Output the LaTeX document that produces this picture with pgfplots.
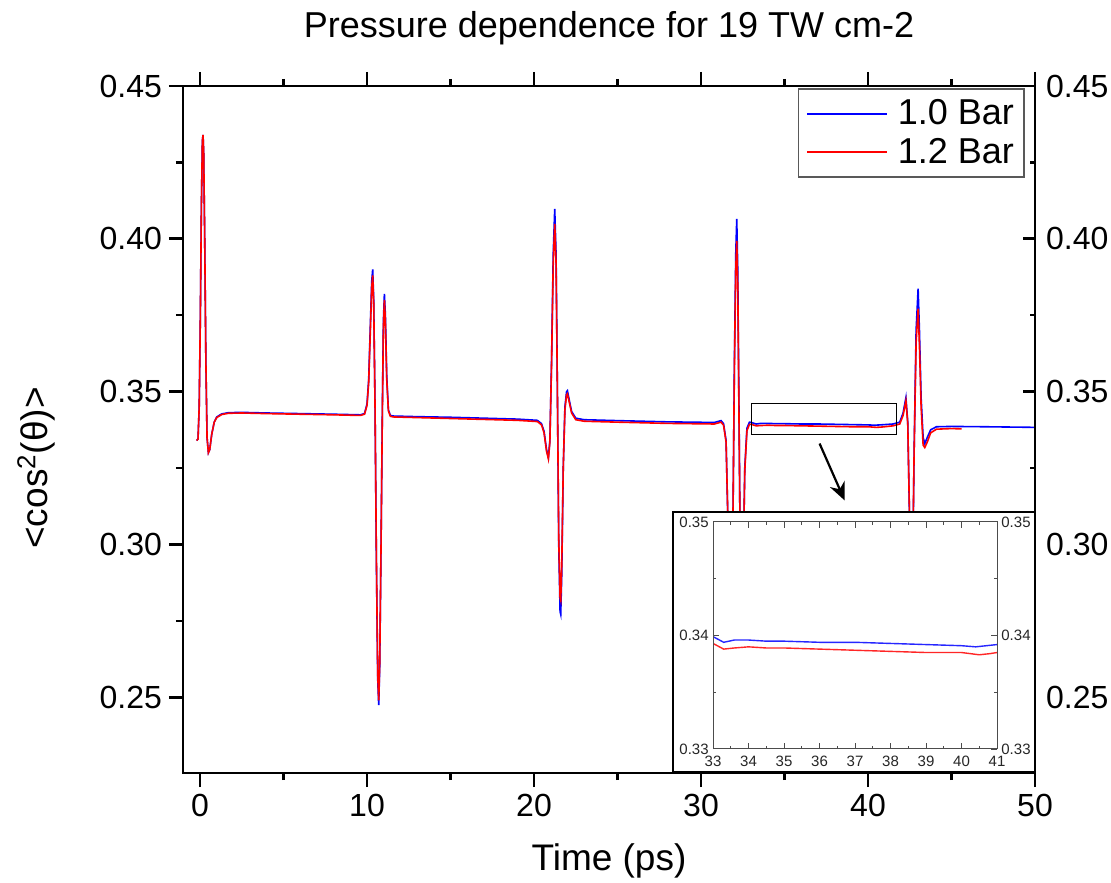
\documentclass[border=0pt]{standalone}
\usepackage{fontspec}
\setmainfont{Liberation Sans}
\usepackage{pgfplots}
\usepackage{pgfplotstable}
\pgfplotsset{compat=1.18}
\usetikzlibrary{arrows.meta}
\pgfplotsset{/pgf/number format/assume math mode=true}

\pgfplotstableread{
t v
-0.20 0.3340
-0.12 0.3345
-0.05 0.3450
0.02 0.3750
0.08 0.4100
0.14 0.4320
0.18 0.4340
0.22 0.4280
0.28 0.4000
0.35 0.3600
0.42 0.3350
0.50 0.3300
0.58 0.3310
0.70 0.3360
0.85 0.3400
1.00 0.3417
1.30 0.3427
1.70 0.3431
2.50 0.3432
4.00 0.3430
6.00 0.3428
8.00 0.3426
9.60 0.3424
9.85 0.3428
10.00 0.3460
10.10 0.3540
10.20 0.3720
10.28 0.3860
10.34 0.3900
10.40 0.3800
10.48 0.3450
10.56 0.2950
10.64 0.2560
10.70 0.2474
10.76 0.2600
10.84 0.3000
10.92 0.3450
10.98 0.3730
11.04 0.3820
11.10 0.3750
11.18 0.3550
11.28 0.3440
11.40 0.3422
11.60 0.3420
13.00 0.3418
15.00 0.3416
17.00 0.3413
19.00 0.3410
20.20 0.3406
20.45 0.3395
20.60 0.3370
20.75 0.3310
20.86 0.3284
20.95 0.3340
21.05 0.3600
21.15 0.3950
21.24 0.4098
21.32 0.3950
21.40 0.3500
21.48 0.3000
21.56 0.2780
21.60 0.2771
21.66 0.2900
21.75 0.3250
21.85 0.3450
21.95 0.3500
22.00 0.3503
22.10 0.3475
22.25 0.3435
22.50 0.3413
23.00 0.3408
25.00 0.3405
28.00 0.3401
30.80 0.3399
31.20 0.3405
31.35 0.3395
31.50 0.3340
31.62 0.3050
31.75 0.2750
31.82 0.2700
31.90 0.3000
32.00 0.3600
32.08 0.3950
32.14 0.4065
32.20 0.3900
32.28 0.3400
32.36 0.2900
32.44 0.2650
32.52 0.2900
32.62 0.3250
32.75 0.3380
32.90 0.3400
33.00 0.3399
33.30 0.3394
33.60 0.3396
34.00 0.3396
34.50 0.3395
35.00 0.3395
36.00 0.3394
37.00 0.3394
38.00 0.3393
39.00 0.3392
40.00 0.3391
40.40 0.3390
40.70 0.3391
41.00 0.3392
41.50 0.3394
41.90 0.3400
42.10 0.3430
42.27 0.3480
42.38 0.3400
42.48 0.3100
42.58 0.2800
42.66 0.2850
42.76 0.3300
42.88 0.3700
43.00 0.3837
43.08 0.3700
43.18 0.3480
43.30 0.3350
43.40 0.3330
43.55 0.3350
43.75 0.3375
44.10 0.3385
45.00 0.3386
47.00 0.3385
50.00 0.3383
}\bluedata

\pgfplotstableread{
t v
-0.20 0.3340
-0.12 0.3345
-0.05 0.3450
0.02 0.3750
0.08 0.4100
0.14 0.4320
0.18 0.4340
0.22 0.4280
0.28 0.4000
0.35 0.3600
0.42 0.3350
0.50 0.3300
0.58 0.3310
0.70 0.3360
0.85 0.3400
1.00 0.3415
1.30 0.3425
1.70 0.3429
2.50 0.3430
4.00 0.3428
6.00 0.3426
8.00 0.3424
9.60 0.3422
9.85 0.3426
10.00 0.3455
10.10 0.3530
10.20 0.3700
10.28 0.3840
10.34 0.3880
10.40 0.3790
10.48 0.3450
10.56 0.2960
10.64 0.2575
10.70 0.2490
10.76 0.2610
10.84 0.3000
10.92 0.3440
10.98 0.3710
11.04 0.3800
11.10 0.3730
11.18 0.3540
11.28 0.3437
11.40 0.3419
11.60 0.3417
13.00 0.3415
15.00 0.3412
17.00 0.3409
19.00 0.3406
20.20 0.3402
20.45 0.3391
20.60 0.3365
20.75 0.3305
20.86 0.3280
20.95 0.3335
21.05 0.3590
21.15 0.3920
21.24 0.4049
21.32 0.3920
21.40 0.3500
21.48 0.3020
21.56 0.2825
21.60 0.2817
21.66 0.2930
21.75 0.3250
21.85 0.3440
21.95 0.3490
22.00 0.3493
22.10 0.3468
22.25 0.3430
22.50 0.3408
23.00 0.3403
25.00 0.3400
28.00 0.3396
30.80 0.3394
31.20 0.3400
31.35 0.3390
31.50 0.3335
31.62 0.3060
31.75 0.2780
31.82 0.2740
31.90 0.3020
32.00 0.3580
32.08 0.3900
32.14 0.3993
32.20 0.3850
32.28 0.3380
32.36 0.2920
32.44 0.2700
32.52 0.2920
32.62 0.3240
32.75 0.3372
32.90 0.3393
33.00 0.3393
33.30 0.3388
33.60 0.3389
34.00 0.3390
34.50 0.3389
35.00 0.3389
36.00 0.3388
37.00 0.3387
38.00 0.3386
39.00 0.3385
40.00 0.3385
40.50 0.3383
40.80 0.3384
41.00 0.3385
41.50 0.3388
41.90 0.3394
42.10 0.3422
42.27 0.3470
42.38 0.3395
42.48 0.3110
42.58 0.2830
42.66 0.2880
42.76 0.3300
42.88 0.3660
43.00 0.3771
43.08 0.3650
43.18 0.3450
43.30 0.3325
43.40 0.3317
43.55 0.3335
43.75 0.3365
44.10 0.3377
45.00 0.3379
45.60 0.3378
}\reddata

\begin{document}
\begin{tikzpicture}
\useasboundingbox (-91.5pt,-54.5pt) rectangle (464pt,386.5pt);
% main axis
\begin{axis}[
  name=main, at={(0pt,0pt)}, anchor=south west,
  scale only axis, width=426pt, height=343.5pt,
  xmin=-1.02, xmax=50, ymin=0.2252, ymax=0.45,
  xtick={0,10,20,30,40,50}, ytick={0.25,0.30,0.35,0.40,0.45},
  minor x tick num=1, minor y tick num=1,
  tick align=outside, xtick pos=both, ytick pos=left,
  major tick length=7pt, minor tick length=3.5pt,
  axis line style={line width=1.3pt},
  every tick/.style={black, line width=1.3pt},
  ticklabel style={font=\fontsize{16}{19}\selectfont},
  yticklabel style={/pgf/number format/.cd, fixed, fixed zerofill, precision=2},
  title={Pressure dependence for 19 TW cm-2},
  every axis title/.style={at={(axis description cs:0.5,1)}, anchor=base, yshift=24pt, font=\fontsize{18}{21}\selectfont},
  xlabel={Time (ps)},
  every axis x label/.style={at={(axis description cs:0.5,0)}, anchor=base, yshift=-48.5pt, font=\fontsize{18.5}{22}\selectfont},
  ylabel={<cos\textsuperscript{2}(θ)>},
  every axis y label/.style={at={(axis description cs:0,0.444)}, xshift=-67.5pt, rotate=90, anchor=base, font=\fontsize{18.5}{22}\selectfont},
  legend style={at={(axis description cs:0.988,0.997)}, anchor=north east,
    draw=gray!70!black, line width=0.8pt, fill=white,
    font=\fontsize{18}{21}\selectfont, nodes={inner ysep=0.5pt, inner xsep=1pt},
    row sep=4pt, inner ysep=5pt, inner xsep=4pt,
    /tikz/every odd column/.append style={column sep=4pt}},
  legend cell align=left,
  legend image code/.code={\draw[#1] (0pt,0pt) -- (40pt,0pt);},
]
\addplot[blue, line width=0.8pt] table[x=t,y=v] {\bluedata};
\addlegendentry{1.0 Bar}
\addplot[red, line width=0.8pt] table[x=t,y=v] {\reddata};
\addlegendentry{1.2 Bar}
\draw[black, line width=0.6pt] (axis cs:33,0.3359) rectangle (axis cs:41.7,0.3461);
\draw[black, line width=1.1pt, -{Stealth[length=9pt,width=8pt]}] (axis cs:37.1,0.3330) -- (axis cs:38.6,0.3144);
\end{axis}
% right-hand labels
\begin{axis}[
  at={(0pt,0pt)}, anchor=south west,
  scale only axis, width=426pt, height=343.5pt,
  xmin=-1.02, xmax=50, ymin=0.2252, ymax=0.45,
  hide x axis,
  ytick={0.25,0.30,0.35,0.40,0.45}, minor y tick num=1,
  tick align=inside, ytick pos=right, yticklabel pos=right,
  major tick length=6pt, minor tick length=2.5pt,
  axis line style={line width=1.3pt},
  every tick/.style={black, line width=1.3pt},
  ticklabel style={font=\fontsize{16}{19}\selectfont},
  yticklabel style={xshift=2pt, /pgf/number format/.cd, fixed, fixed zerofill, precision=2},
]
\end{axis}
% inset frame
\draw[fill=white, line width=1.3pt] (245pt,0.5pt) rectangle (426pt,130.5pt);
% inset
\begin{axis}[
  at={(265pt,12pt)}, anchor=south west,
  scale only axis, width=142pt, height=113.5pt,
  xmin=33, xmax=41, ymin=0.33, ymax=0.35,
  xtick={33,34,35,36,37,38,39,40,41}, ytick={0.33,0.34,0.35},
  minor x tick num=1, minor y tick num=1,
  tick align=inside, xtick pos=both, ytick pos=left,
  major tick length=3pt, minor tick length=1.5pt,
  axis line style={gray!60!black, line width=0.5pt},
  every tick/.style={gray!60!black, line width=0.5pt},
  ticklabel style={font=\fontsize{7.5}{9}\selectfont, text=black!85},
  xticklabel style={inner sep=1.5pt, yshift=-2pt},
  yticklabel style={inner sep=2pt, /pgf/number format/.cd, fixed, fixed zerofill, precision=2},
]
\addplot[blue!85, line width=0.7pt] table[x=t,y=v] {\bluedata};
\addplot[red!85, line width=0.7pt] table[x=t,y=v] {\reddata};
\end{axis}
\begin{axis}[
  at={(265pt,12pt)}, anchor=south west,
  scale only axis, width=142pt, height=113.5pt,
  xmin=33, xmax=41, ymin=0.33, ymax=0.35,
  hide x axis,
  ytick={0.33,0.34,0.35}, minor y tick num=1,
  tick align=inside, ytick pos=right, yticklabel pos=right,
  major tick length=3pt, minor tick length=1.5pt,
  axis line style={gray!60!black, line width=0.5pt},
  every tick/.style={gray!60!black, line width=0.5pt},
  ticklabel style={font=\fontsize{7.5}{9}\selectfont, text=black!85},
  yticklabel style={inner sep=2pt, /pgf/number format/.cd, fixed, fixed zerofill, precision=2},
]
\end{axis}
\end{tikzpicture}
\end{document}
